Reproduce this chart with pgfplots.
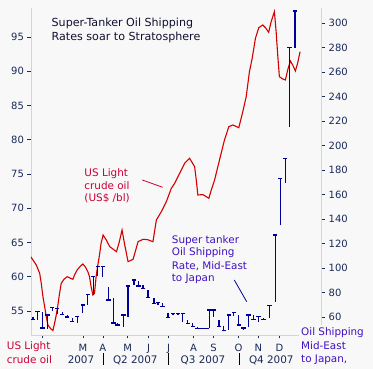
\documentclass[border=0pt]{standalone}
\usepackage{fontspec}
\setmainfont{DejaVu Sans}
\usepackage{pgfplots}
\pgfplotsset{compat=1.18}
\usepackage{pgfplotstable}
\definecolor{bg}{HTML}{F8F8F8}
\definecolor{axc}{HTML}{FFCC99}
\definecolor{oilred}{HTML}{D40000}
\definecolor{barblue}{HTML}{000099}
\definecolor{lblred}{HTML}{CC0033}
\definecolor{lblblue}{HTML}{4010C0}
\definecolor{tickc}{HTML}{1A2A5A}
\definecolor{titc}{HTML}{101030}

\pgfplotstableread{
d v
-9.7 62.93
-6.5 62.45
-1.9 61.72
2.8 60.50
5.0 59.04
7.3 57.09
9.7 55.63
11.9 54.17
14.2 52.96
16.6 52.62
18.8 52.33
21.1 52.15
23.4 53.20
25.7 54.42
28.0 55.88
30.3 57.58
32.6 59.04
36.3 59.63
40.8 60.01
45.5 59.77
48.7 59.63
51.0 60.26
54.6 60.99
59.3 61.57
62.5 61.86
65.7 61.47
69.4 60.74
71.7 60.01
73.9 58.55
76.3 57.34
78.6 57.58
80.8 60.01
83.2 61.72
85.5 63.18
87.7 64.88
90.5 66.09
94.9 65.36
99.7 64.39
109.0 63.66
112.8 65.07
116.7 66.82
120.4 64.64
125.0 62.20
131.9 62.55
135.6 63.90
138.8 65.12
145.7 65.47
152.1 65.41
159.4 65.12
164.1 68.28
171.0 69.50
177.9 70.96
184.8 72.91
189.4 73.64
196.3 75.10
203.2 76.56
210.1 77.29
217.0 76.07
219.3 74.12
221.5 71.93
228.4 72.00
236.7 71.45
240.0 72.66
244.6 74.12
251.4 77.04
258.3 79.96
264.3 81.91
269.8 82.15
278.1 81.76
283.6 84.09
288.3 86.28
292.8 89.93
296.6 91.89
301.1 94.81
305.7 96.36
311.2 96.75
314.9 96.36
319.4 95.69
322.8 97.23
327.3 98.69
329.7 95.77
331.9 92.37
334.2 89.20
338.8 88.87
342.5 88.72
345.7 90.18
349.4 91.50
352.6 90.91
356.3 90.04
359.4 91.16
362.8 92.85
}\oil

\pgfplotstableread{
d lo hi c
-6.5 57.6 60.0 57.6
-0.6 57.6 64.3 64.3
6.3 51.0 64.3 51.0
13.2 50.2 61.6 61.6
20.1 65.1 68.4 67.5
27.0 62.4 67.3 67.3
33.9 62.4 64.3 62.4
40.8 60.0 61.6 60.0
47.7 56.2 59.2 56.2
54.6 55.1 60.2 60.2
62.5 63.3 69.8 69.8
69.4 69.8 78.0 78.0
76.7 78.0 92.9 92.9
83.2 93.5 101.1 101.1
90.1 92.9 101.1 101.1
98.3 73.9 84.7 73.9
105.2 55.1 75.5 55.1
110.8 53.5 55.1 53.5
118.6 52.1 61.6 61.6
125.0 60.0 85.3 85.3
133.2 86.1 90.2 90.2
139.7 85.3 89.6 85.3
145.7 83.4 86.1 83.4
152.6 76.1 82.0 76.1
160.8 71.2 75.3 71.2
166.3 69.8 71.7 71.7
172.4 68.4 71.2 68.4
180.1 59.4 63.5 59.4
187.0 61.5 63.0 62.6
193.9 61.6 63.3 62.8
200.8 56.2 63.0 63.0
207.7 54.9 57.6 54.9
214.6 52.1 54.9 52.1
220.7 50.8 52.1 50.8
227.0 50.8 51.0 50.9
233.1 50.8 51.0 50.9
237.7 50.8 65.7 65.7
243.6 60.2 65.7 65.7
250.8 52.1 57.6 52.1
257.4 48.8 52.7 48.8
264.3 49.4 61.6 61.6
271.2 60.8 63.8 63.8
278.1 53.5 61.6 53.5
285.0 49.4 52.1 51.0
291.9 52.1 61.6 61.6
298.8 57.6 61.6 57.6
305.7 56.2 60.2 60.2
312.6 57.6 59.0 58.3
320.4 58.9 69.2 69.2
328.3 72.5 126.9 126.9
335.2 135.1 173.2 173.2
342.1 169.7 189.6 189.6
348.0 215.3 279.8 279.8
355.9 279.8 309.8 309.8
}\tank

\begin{document}
\begin{tikzpicture}
\fill[bg] (0pt,0pt) rectangle (373pt,369pt);
\useasboundingbox (0pt,0pt) rectangle (373pt,369pt);
\pgfplotsset{
  common/.style={
    at={(31pt,34pt)}, anchor=south west, scale only axis,
    width=290.7pt, height=327pt,
    xmin=-9.2, xmax=392.7,
    axis line style={axc, line width=0.8pt, -},
    tick style={tickc, line width=0.6pt},
    tick align=outside, major tick length=3.5pt,
    ticklabel style={font=\fontsize{10}{12}\selectfont, text=tickc},
    /pgf/number format/assume math mode=true,
    enlargelimits=false,
  }
}
\begin{axis}[common,
  ymin=51.5, ymax=99.23,
  axis x line*=bottom, axis y line*=left,
  ytick={55,60,...,95},
  xtick={5.9,62.5,90.1,124.6,153.5,181,215.6,243.2,277.7,305.2,334.2},
  xticklabels={,M,A,M,J,J,A,S,O,N,D},
  xticklabel style={yshift=-2.5pt},
]
\addplot[oilred, line width=1.1pt, mark=none] table[x=d, y=v] {\oil};
\end{axis}
\begin{axis}[common,
  ymin=45.31, ymax=312.24,
  axis y line*=right, axis x line=none,
  ytick={60,80,...,300},
]
\addplot[barblue, only marks, mark=-, mark size=2.3pt, mark options={line width=1.1pt},
  error bars/.cd, y dir=both, y explicit, error mark=none,
  error bar style={line width=1.2pt, barblue}]
  table[x=d, y=c, y error plus expr=\thisrow{hi}-\thisrow{c}, y error minus expr=\thisrow{c}-\thisrow{lo}] {\tank};
\end{axis}
\begin{scope}[font=\fontsize{10.4}{12}\selectfont]
% title
\node[anchor=base west, text=titc, inner sep=0pt, font=\fontsize{11.1}{13}\selectfont] at (51.5pt,342pt) {Super-Tanker Oil Shipping};
\node[anchor=base west, text=titc, inner sep=0pt, font=\fontsize{11.1}{13}\selectfont] at (51.5pt,328pt) {Rates soar to Stratosphere};
% red label
\node[anchor=base west, text=lblred, inner sep=0pt] at (84.3pt,192.5pt) {US Light};
\node[anchor=base west, text=lblred, inner sep=0pt] at (84.3pt,179.7pt) {crude oil};
\node[anchor=base west, text=lblred, inner sep=0pt] at (84.3pt,167pt) {(US\$ /bl)};
\draw[lblred, line width=0.8pt] (142.3pt,189pt) -- (162.7pt,181.7pt);
% blue label
\node[anchor=base west, text=lblblue, inner sep=0pt] at (171.7pt,125.7pt) {Super tanker};
\node[anchor=base west, text=lblblue, inner sep=0pt] at (171.7pt,113pt) {Oil Shipping};
\node[anchor=base west, text=lblblue, inner sep=0pt] at (171.7pt,99.7pt) {Rate, Mid-East};
\node[anchor=base west, text=lblblue, inner sep=0pt] at (171.7pt,87.3pt) {to Japan};
\draw[barblue, line width=0.8pt] (234.3pt,89pt) -- (246.7pt,67.3pt);
% bottom left
\node[anchor=base west, text=lblred, inner sep=0pt] at (6.7pt,19pt) {US Light};
\node[anchor=base west, text=lblred, inner sep=0pt] at (6.7pt,5pt) {crude oil};
% bottom right
\fill[bg] (299pt,0pt) rectangle (373pt,44pt);
\node[anchor=base west, text=lblblue, inner sep=0pt] at (301pt,33pt) {Oil Shipping};
\node[anchor=base west, text=lblblue, inner sep=0pt] at (301pt,19.7pt) {Mid-East};
\node[anchor=base west, text=lblblue, inner sep=0pt] at (301pt,6.5pt) {to Japan,};
% second row
\node[anchor=base, text=tickc, inner sep=0pt] at (81pt,5pt) {2007};
\node[anchor=base, text=tickc, inner sep=0pt] at (135.3pt,5pt) {Q2 2007};
\node[anchor=base, text=tickc, inner sep=0pt] at (203pt,5pt) {Q3 2007};
\node[anchor=base, text=tickc, inner sep=0pt] at (271.3pt,5pt) {Q4 2007};
\draw[black, line width=0.8pt] (103.7pt,4pt) -- (103.7pt,16pt);
\draw[black, line width=0.8pt] (168.3pt,4pt) -- (168.3pt,16pt);
\draw[black, line width=0.8pt] (239.3pt,4pt) -- (239.3pt,16pt);
\end{scope}
\end{tikzpicture}
\end{document}
